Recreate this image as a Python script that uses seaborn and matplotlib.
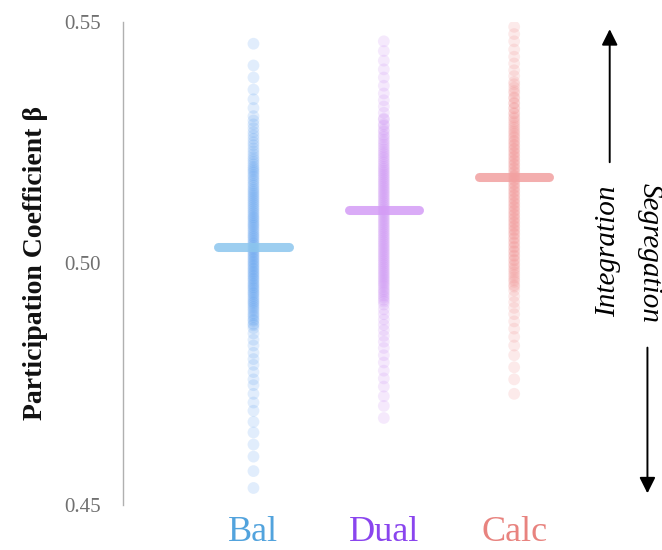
import numpy as np
import pandas as pd
import matplotlib
matplotlib.use("Agg")
import matplotlib.pyplot as plt
import seaborn as sns

sns.set_style("white")
plt.rcParams['font.family'] = ['Liberation Serif', 'DejaVu Serif']

categories = ["Bal", "Dual", "Calc"]

bal_values = [0.4535, 0.4570, 0.4600, 0.4625, 0.4650, 0.4672, 0.4695, 0.4712, 0.4730, 0.4748,
              0.4760, 0.4775, 0.4790, 0.4802, 0.4815, 0.4830, 0.4842, 0.4855, 0.4866, 0.4875,
              0.4884, 0.4893, 0.4902, 0.4910, 0.4918, 0.4925, 0.4933, 0.4940, 0.4948, 0.4955,
              0.4962, 0.4969, 0.4976, 0.4983, 0.4990, 0.4997, 0.5004, 0.5011, 0.5018, 0.5025,
              0.5032, 0.5040, 0.5047, 0.5055, 0.5062, 0.5070, 0.5078, 0.5085, 0.5093, 0.5100,
              0.5108, 0.5116, 0.5124, 0.5132, 0.5140, 0.5148, 0.5156, 0.5165, 0.5174, 0.5183,
              0.5192, 0.5200, 0.5210, 0.5220, 0.5232, 0.5245, 0.5258, 0.5272, 0.5288, 0.5305,
              0.5322, 0.5340, 0.5360, 0.5385, 0.5410, 0.5455,
              0.4872, 0.4881, 0.4889, 0.4897, 0.4906, 0.4914, 0.4921, 0.4929, 0.4937, 0.4944,
              0.4951, 0.4958, 0.4966, 0.4973, 0.4980, 0.4987, 0.4994, 0.5001, 0.5008, 0.5015,
              0.5022, 0.5029, 0.5036, 0.5043, 0.5051, 0.5058, 0.5066, 0.5074, 0.5081, 0.5089,
              0.5096, 0.5104, 0.5112, 0.5120, 0.5128, 0.5136, 0.5144, 0.5152, 0.5161, 0.5170,
              0.5179, 0.5188, 0.5196, 0.5205, 0.5215, 0.5226, 0.5238, 0.5251, 0.5265, 0.5280,
              0.5296]

dual_values = [0.4680, 0.4705, 0.4725, 0.4745, 0.4762, 0.4778, 0.4795, 0.4810, 0.4825, 0.4838,
               0.4850, 0.4862, 0.4873, 0.4884, 0.4895, 0.4905, 0.4915, 0.4925, 0.4934, 0.4943,
               0.4952, 0.4960, 0.4968, 0.4976, 0.4984, 0.4992, 0.5000, 0.5008, 0.5016, 0.5024,
               0.5032, 0.5040, 0.5048, 0.5056, 0.5064, 0.5072, 0.5080, 0.5088, 0.5096, 0.5104,
               0.5112, 0.5120, 0.5128, 0.5136, 0.5144, 0.5152, 0.5160, 0.5168, 0.5176, 0.5184,
               0.5192, 0.5200, 0.5209, 0.5218, 0.5227, 0.5236, 0.5246, 0.5256, 0.5266, 0.5277,
               0.5288, 0.5300, 0.5312, 0.5325, 0.5338, 0.5352, 0.5368, 0.5385, 0.5402, 0.5420,
               0.5440, 0.5460,
               0.4921, 0.4930, 0.4939, 0.4947, 0.4956, 0.4964, 0.4972, 0.4980, 0.4988, 0.4996,
               0.5004, 0.5012, 0.5020, 0.5028, 0.5036, 0.5044, 0.5052, 0.5060, 0.5068, 0.5076,
               0.5084, 0.5092, 0.5100, 0.5108, 0.5116, 0.5124, 0.5132, 0.5140, 0.5148, 0.5156,
               0.5164, 0.5172, 0.5180, 0.5188, 0.5196, 0.5204, 0.5213, 0.5222, 0.5231, 0.5241,
               0.5251, 0.5262, 0.5273, 0.5285, 0.5298]

calc_values = [0.4730, 0.4760, 0.4785, 0.4810, 0.4830, 0.4848, 0.4865, 0.4880, 0.4895, 0.4908,
               0.4920, 0.4932, 0.4944, 0.4955, 0.4966, 0.4976, 0.4986, 0.4996, 0.5006, 0.5015,
               0.5024, 0.5033, 0.5042, 0.5051, 0.5060, 0.5068, 0.5076, 0.5084, 0.5092, 0.5100,
               0.5108, 0.5116, 0.5124, 0.5132, 0.5140, 0.5148, 0.5156, 0.5164, 0.5172, 0.5180,
               0.5188, 0.5196, 0.5204, 0.5212, 0.5220, 0.5228, 0.5236, 0.5244, 0.5252, 0.5260,
               0.5268, 0.5276, 0.5285, 0.5294, 0.5303, 0.5312, 0.5322, 0.5332, 0.5342, 0.5353,
               0.5364, 0.5376, 0.5388, 0.5400, 0.5414, 0.5428, 0.5443, 0.5460, 0.5475, 0.5490,
               0.4952, 0.4962, 0.4971, 0.4981, 0.4990, 0.4999, 0.5008, 0.5017, 0.5026, 0.5035,
               0.5044, 0.5053, 0.5062, 0.5070, 0.5078, 0.5086, 0.5094, 0.5102, 0.5110, 0.5118,
               0.5126, 0.5134, 0.5142, 0.5150, 0.5158, 0.5166, 0.5174, 0.5182, 0.5190, 0.5198,
               0.5206, 0.5214, 0.5222, 0.5230, 0.5238, 0.5246, 0.5254, 0.5263, 0.5272, 0.5281,
               0.5290, 0.5300, 0.5310, 0.5321, 0.5332, 0.5344, 0.5357, 0.5371]

group_means = [0.5035, 0.5110, 0.5178]

y_ticks = [0.45, 0.50, 0.55]
y_tick_labels = ["0.45", "0.50", "0.55"]

point_colors = {"Bal": "#4a94ee", "Dual": "#c27cf2", "Calc": "#ef7f7f"}
mean_colors = ["#8cc6ee", "#d49cf6", "#f2a0a0"]
label_colors = ["#52a3dd", "#8a45ee", "#e8837f"]

df = pd.DataFrame({
    "group": ["Bal"] * len(bal_values) + ["Dual"] * len(dual_values) + ["Calc"] * len(calc_values),
    "beta": bal_values + dual_values + calc_values,
})

fig = plt.figure(figsize=(6.62, 5.5), dpi=100)
ax = fig.add_axes([0.186, 0.082, 0.699, 0.878])

sns.stripplot(data=df, x="group", y="beta", hue="group", order=categories,
              palette=point_colors, jitter=False, size=8.5, alpha=0.16,
              linewidth=0, legend=False, ax=ax, zorder=2)

for i, (m, c) in enumerate(zip(group_means, mean_colors)):
    lc = ax.hlines(m, i - 0.27, i + 0.27, colors=c, linewidth=6.5, alpha=0.85, zorder=3)
    lc.set_capstyle("round")

ax.set_xlim(-1, 2.55)
ax.set_ylim(0.45, 0.55)
ax.set_yticks(y_ticks)
ax.set_yticklabels(y_tick_labels)
ax.tick_params(axis="y", length=0, pad=16, labelsize=15, labelcolor="#707070")
ax.tick_params(axis="x", length=0, pad=8, labelsize=26)
ax.set_xticks(range(len(categories)))
ax.set_xticklabels(categories)
for lbl, c in zip(ax.get_xticklabels(), label_colors):
    lbl.set_color(c)

ax.set_xlabel("")
ax.set_ylabel("Participation Coefficient β", fontsize=20, fontweight="bold", color="#111111")
ax.yaxis.set_label_coords(-0.162, 0.5)

for side in ["top", "right", "bottom"]:
    ax.spines[side].set_visible(False)
ax.spines["left"].set_color("#b0b0b0")
ax.spines["left"].set_linewidth(1.0)

# Right-side annotations
ax.annotate("", xy=(0.921, 0.952), xycoords="figure fraction",
            xytext=(0.921, 0.700), textcoords="figure fraction",
            arrowprops=dict(arrowstyle="-|>", color="black", lw=1.4, mutation_scale=24))
ax.annotate("", xy=(0.978, 0.098), xycoords="figure fraction",
            xytext=(0.978, 0.373), textcoords="figure fraction",
            arrowprops=dict(arrowstyle="-|>", color="black", lw=1.4, mutation_scale=24))
fig.text(0.918, 0.543, "Integration", rotation=90, ha="center", va="center",
         fontsize=21, fontstyle="italic", color="black")
fig.text(0.982, 0.540, "Segregation", rotation=-90, ha="center", va="center",
         fontsize=21, fontstyle="italic", color="black")

fig.savefig("out.png", dpi=100, facecolor="white")
